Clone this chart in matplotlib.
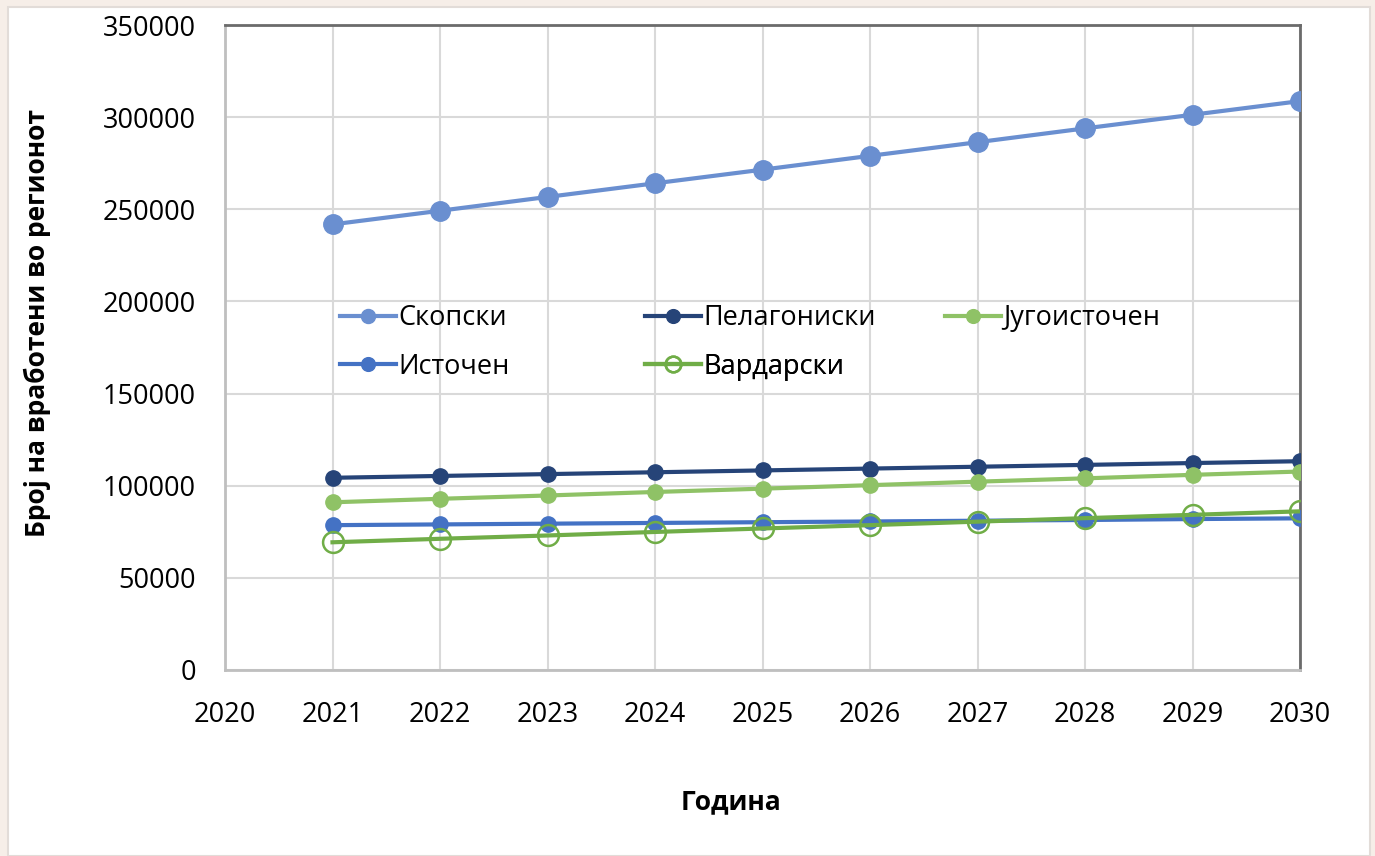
import matplotlib.pyplot as plt
from matplotlib.patches import Rectangle

# Data
years = [2021, 2022, 2023, 2024, 2025, 2026, 2027, 2028, 2029, 2030]
skopski = [241800, 249200, 256700, 264100, 271500, 279000, 286400, 293900, 301300, 308700]
pelagoniski = [104300, 105300, 106300, 107300, 108300, 109300, 110300, 111300, 112300, 113300]
jugoistochen = [91000, 92900, 94700, 96600, 98400, 100300, 102200, 104000, 105900, 107700]
istochen = [78600, 79000, 79400, 79800, 80200, 80600, 81000, 81400, 81900, 82300]
vardarski = [69300, 71200, 73000, 74900, 76800, 78600, 80500, 82400, 84200, 86100]

x_ticks = list(range(2020, 2031))
y_ticks = list(range(0, 350001, 50000))

plt.rcParams['font.family'] = ['Open Sans', 'DejaVu Sans']

fig = plt.figure(figsize=(13.75, 8.56), dpi=100)
fig.patch.set_facecolor('#f6eee8')
# white chart panel
fig.patches.append(Rectangle((8 / 1375, 0), 1362 / 1375, 849 / 856,
                             transform=fig.transFigure, facecolor='white',
                             edgecolor='#e2dcd8', linewidth=1.5, zorder=-10))

ax = fig.add_axes([225 / 1375, (856 - 670) / 856, 1075 / 1375, 645 / 856])
ax.set_facecolor('white')

l1, = ax.plot(years, skopski, color='#6a8fd0', lw=3, marker='o', ms=14, label='Скопски', zorder=5)
l2, = ax.plot(years, pelagoniski, color='#264478', lw=3, marker='o', ms=11, label='Пелагониски', zorder=5)
l3, = ax.plot(years, jugoistochen, color='#8fc266', lw=3, marker='o', ms=11, label='Југоисточен', zorder=5)
l4, = ax.plot(years, istochen, color='#4472c4', lw=3, marker='o', ms=11, label='Источен', zorder=5)
l5, = ax.plot(years, vardarski, color='#70ad47', lw=3, marker='o', ms=15, mfc='none', mew=1.8,
              label='Вардарски', zorder=6)

ax.set_xlim(2020, 2030)
ax.set_ylim(0, 350000)
ax.set_xticks(x_ticks)
ax.set_yticks(y_ticks)
ax.tick_params(axis='both', labelsize=19.5, length=0)
ax.tick_params(axis='y', pad=21)
ax.tick_params(axis='x', pad=22)
ax.grid(True, color='#d9d9d9', lw=1.5)
ax.set_axisbelow(True)

for s in ['top', 'right']:
    ax.spines[s].set_color('#6b6b6b')
    ax.spines[s].set_linewidth(2)
for s in ['left', 'bottom']:
    ax.spines[s].set_color('#bfbfbf')
    ax.spines[s].set_linewidth(2)

ax.set_xlabel('Година', fontsize=19, fontweight='bold', va='center')
ax.xaxis.set_label_coords(0.4707, -0.2047)
ax.set_ylabel('Број на вработени во регионот', fontsize=19, fontweight='bold', va='center')
ax.yaxis.set_label_coords(-0.1749, 0.538)

# legend laid out like Excel: fixed columns, row order
legend_items = [
    (l1, 0.107, 0.5457, 0.72),
    (l2, 0.3907, 0.5457, 0.9),
    (l3, 0.6698, 0.5457, 0.9),
    (l4, 0.107, 0.4698, 0.9),
    (l5, 0.3907, 0.4698, 0.75),
]
for h, lx, ly, ms in legend_items:
    leg = ax.legend(handles=[h], labels=[h.get_label()], loc='center left',
                    bbox_to_anchor=(lx, ly), frameon=False, fontsize=19.5,
                    handlelength=2.05, handletextpad=0.1, borderpad=0,
                    borderaxespad=0, markerscale=ms)
    ax.add_artist(leg)

fig.savefig('out.png', dpi=100, facecolor=fig.get_facecolor())
